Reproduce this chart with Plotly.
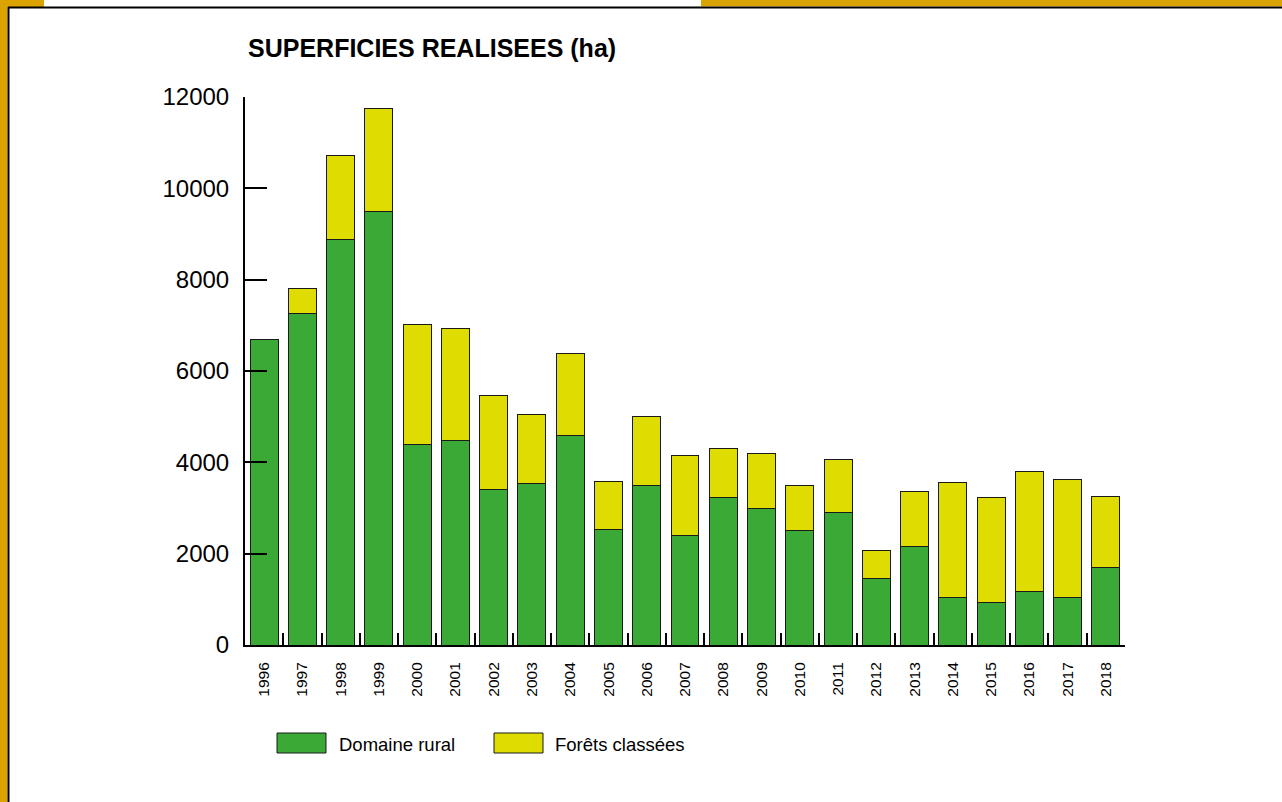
import plotly.graph_objects as go

years = [str(y) for y in range(1996, 2019)]
domaine_rural = [6700, 7270, 8890, 9500, 4400, 4470, 3400, 3530, 4580, 2540, 3500, 2390,
                 3220, 3000, 2500, 2910, 1450, 2150, 1050, 940, 1180, 1050, 1690]
forets_totals = [6700, 7800, 10710, 11740, 7010, 6940, 5470, 5040, 6390, 3570, 5010, 4140,
                 4310, 4200, 3500, 4070, 2080, 3370, 3550, 3240, 3790, 3630, 3260]
forets_classees = [t - d for t, d in zip(forets_totals, domaine_rural)]
y_ticks = [0, 2000, 4000, 6000, 8000, 10000, 12000]
y_tick_labels = [str(v) for v in y_ticks]

W, H = 1282, 802
L, R, T, B = 245, 1125, 97, 645
GREEN = "#3BA935"
YELLOW = "#DEDC00"
GOLD = "#DAA300"

def px(x):
    return (x - L) / (R - L)

def py(y):
    return (B - y) / (B - T)

fig = go.Figure()
fig.add_trace(go.Bar(x=years, y=domaine_rural, name="Domaine rural",
                     marker=dict(color=GREEN, line=dict(color="#1a1a1a", width=1))))
fig.add_trace(go.Bar(x=years, y=forets_classees, name="Forêts classées",
                     marker=dict(color=YELLOW, line=dict(color="#1a1a1a", width=1))))

shapes = []
# frame
shapes.append(dict(type="rect", xref="paper", yref="paper", x0=px(0), x1=px(7.5), y0=py(0), y1=py(H),
                   fillcolor=GOLD, line=dict(width=0), layer="below"))
shapes.append(dict(type="rect", xref="paper", yref="paper", x0=px(0), x1=px(44), y0=py(0), y1=py(7),
                   fillcolor=GOLD, line=dict(width=0), layer="below"))
shapes.append(dict(type="rect", xref="paper", yref="paper", x0=px(701), x1=px(W), y0=py(0), y1=py(6.5),
                   fillcolor=GOLD, line=dict(width=0), layer="below"))
shapes.append(dict(type="line", xref="paper", yref="paper", x0=px(8), x1=px(W), y0=py(7.5), y1=py(7.5),
                   line=dict(color="black", width=2)))
shapes.append(dict(type="line", xref="paper", yref="paper", x0=px(8.5), x1=px(8.5), y0=py(7), y1=py(H),
                   line=dict(color="black", width=2)))
# legend boxes
shapes.append(dict(type="rect", xref="paper", yref="paper", x0=px(277), x1=px(326), y0=py(733), y1=py(753),
                   fillcolor=GREEN, line=dict(color="#1a1a1a", width=1)))
shapes.append(dict(type="rect", xref="paper", yref="paper", x0=px(494), x1=px(543), y0=py(733), y1=py(753),
                   fillcolor=YELLOW, line=dict(color="#1a1a1a", width=1)))

annotations = [
    dict(text="<b>SUPERFICIES REALISEES (ha)</b>", xref="paper", yref="paper", x=px(246), y=py(48),
         xanchor="left", yanchor="middle", showarrow=False,
         font=dict(family="Liberation Sans, Arial", size=25, color="black")),
    dict(text="Domaine rural", xref="paper", yref="paper", x=px(337), y=py(744),
         xanchor="left", yanchor="middle", showarrow=False,
         font=dict(family="Liberation Sans, Arial", size=18.5, color="black")),
    dict(text="Forêts classées", xref="paper", yref="paper", x=px(553), y=py(744),
         xanchor="left", yanchor="middle", showarrow=False,
         font=dict(family="Liberation Sans, Arial", size=18.5, color="black")),
]

fig.update_layout(
    width=W, height=H, autosize=False,
    margin=dict(l=L, r=W - R, t=T, b=H - B, pad=0),
    paper_bgcolor="white", plot_bgcolor="white",
    barmode="stack", bargap=0.27,
    showlegend=False,
    shapes=shapes, annotations=annotations,
    font=dict(family="Liberation Sans, Arial", color="black"),
)
fig.update_xaxes(type="category", showline=True, linecolor="black", linewidth=2,
                 ticks="inside", tickson="boundaries", ticklen=12, tickwidth=2, tickcolor="black",
                 tickangle=-90, tickfont=dict(size=15.5), showgrid=False, zeroline=False,
                 ticklabelstandoff=9)
fig.update_yaxes(range=[0, 12000], tickvals=y_ticks, ticktext=y_tick_labels,
                 showline=True, linecolor="black", linewidth=2,
                 ticks="inside", ticklen=22, tickwidth=2, tickcolor="black",
                 tickfont=dict(size=24), showgrid=False, zeroline=False, ticklabelstandoff=9)

fig.write_html("out.html", config={"displayModeBar": False},
               post_script="document.body.style.margin='0';document.body.style.overflow='hidden';")
